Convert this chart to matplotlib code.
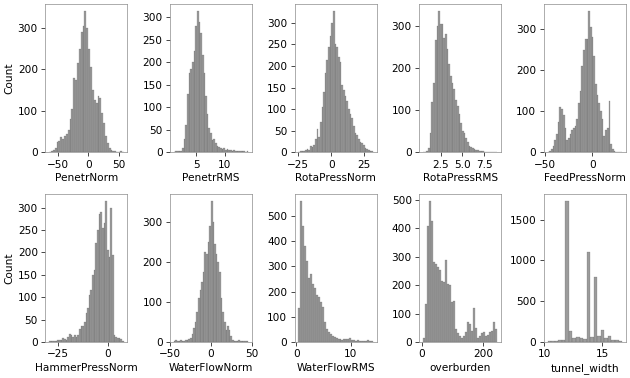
import numpy as np
import matplotlib
matplotlib.use("Agg")
import matplotlib.pyplot as plt

# histogram counts, one list per feature
# (bin range lo/hi, then the counts per bin)
penetr_norm_range = (-64, 57)
penetr_norm = [1, 3, 5, 10, 25, 27, 38, 33, 40, 45, 55, 80, 105, 180, 175, 215, 250, 290, 305, 340,
               300, 250, 205, 150, 125, 120, 135, 130, 95, 70, 40, 22, 10, 6, 4, 3, 2, 2, 3, 1]

penetr_rms_range = (1.1, 14.1)
penetr_rms = [1, 2, 2, 3, 3, 10, 30, 60, 130, 175, 185, 200, 225, 280, 313, 290, 265, 215, 175, 125,
              85, 55, 42, 28, 30, 20, 15, 12, 10, 8, 10, 6, 7, 5, 5, 4, 5, 3, 3, 4, 2, 2, 3, 1, 2]

rota_press_norm_range = (-25, 31.4)
rota_press_norm = [1, 2, 2, 3, 5, 8, 6, 15, 12, 18, 30, 55, 35, 70, 105, 140, 185, 215, 245, 270,
                   300, 327, 250, 245, 220, 210, 155, 145, 130, 120, 100, 90, 80, 60, 45, 40, 30, 25,
                   22, 18, 10, 8, 6, 4, 2]

rota_press_rms_range = (0.5, 9.0)
rota_press_rms = [1, 2, 3, 10, 45, 120, 165, 265, 300, 334, 305, 305, 270, 280, 245, 210, 180, 165,
                  150, 125, 110, 90, 70, 50, 45, 35, 25, 15, 12, 10, 8, 6, 5, 4, 3, 3, 2, 2, 2, 1,
                  1, 1, 2, 1]

feed_press_norm_range = (-47, 31)
feed_press_norm = [2, 3, 8, 15, 30, 45, 75, 110, 105, 90, 60, 30, 35, 45, 55, 60, 65, 80, 120, 150,
                   210, 250, 275, 275, 343, 305, 280, 235, 165, 140, 120, 100, 80, 40, 55, 60, 125,
                   20, 8, 3, 2, 1, 1, 1]

hammer_press_norm_range = (-29.3, 7.9)
hammer_press_norm = [2, 3, 3, 3, 3, 4, 4, 5, 8, 6, 5, 12, 18, 15, 10, 15, 12, 15, 30, 35, 35, 45,
                     65, 75, 105, 115, 150, 160, 220, 250, 285, 290, 255, 265, 315, 205, 190, 300,
                     195, 15, 10, 8, 8, 7, 3]

water_flow_norm_range = (-45.5, 45.5)
water_flow_norm = [3, 4, 3, 2, 4, 3, 3, 5, 4, 8, 10, 20, 35, 50, 75, 110, 130, 150, 175, 225, 220,
                   250, 290, 353, 300, 245, 220, 200, 175, 110, 75, 50, 30, 40, 30, 15, 5, 3, 3, 2,
                   4, 2, 3, 2, 3, 2]

water_flow_rms_range = (0.35, 14.0)
water_flow_rms = [135, 561, 460, 380, 320, 255, 270, 230, 215, 185, 180, 160, 140, 80, 50, 40, 30,
                  22, 20, 15, 12, 10, 8, 10, 12, 10, 15, 8, 8, 5, 6, 4, 3, 5, 3, 6, 3, 4]

overburden_range = (3.3, 246)
overburden = [15, 135, 410, 497, 425, 280, 275, 265, 255, 215, 210, 290, 205, 200, 140, 145, 45, 30,
              20, 15, 20, 35, 70, 65, 40, 120, 50, 15, 20, 30, 35, 20, 25, 35, 40, 70, 45]

tunnel_width_range = (10.3, 16.68)
tunnel_width = [8, 8, 10, 30, 20, 1729, 140, 45, 65, 45, 40, 1100, 65, 800, 75, 150, 50, 70, 20,
                20, 15]

columns = ["PenetrNorm", "PenetrRMS", "RotaPressNorm", "RotaPressRMS", "FeedPressNorm",
           "HammerPressNorm", "WaterFlowNorm", "WaterFlowRMS", "overburden", "tunnel_width"]
ranges = [penetr_norm_range, penetr_rms_range, rota_press_norm_range, rota_press_rms_range,
          feed_press_norm_range, hammer_press_norm_range, water_flow_norm_range,
          water_flow_rms_range, overburden_range, tunnel_width_range]
counts = [penetr_norm, penetr_rms, rota_press_norm, rota_press_rms, feed_press_norm,
          hammer_press_norm, water_flow_norm, water_flow_rms, overburden, tunnel_width]

plt.rcParams["font.size"] = 12
plt.rcParams["axes.labelsize"] = 12
plt.rcParams["xtick.labelsize"] = 12
plt.rcParams["ytick.labelsize"] = 12
plt.rcParams["xtick.major.size"] = 5
plt.rcParams["ytick.major.size"] = 5

fig, axs = plt.subplots(2, 5, figsize=(10, 6), dpi=63)

for i, ax in enumerate(axs.flat):
    lo, hi = ranges[i]
    edges = np.linspace(lo, hi, len(counts[i]) + 1)
    centers = (edges[:-1] + edges[1:]) / 2
    ax.hist(centers, bins=edges, weights=counts[i], color=(0.5, 0.5, 0.5, 0.78),
            edgecolor=(0.3, 0.3, 0.3, 0.5), linewidth=0.4)
    ax.set_xlabel(columns[i])
    if i % 5 == 0:
        ax.set_ylabel("Count")
    for s in ax.spines.values():
        s.set_color("#8c8c8c")

plt.tight_layout(pad=0.4, h_pad=1.0, w_pad=0.8)
plt.savefig("out.png", dpi=63)
